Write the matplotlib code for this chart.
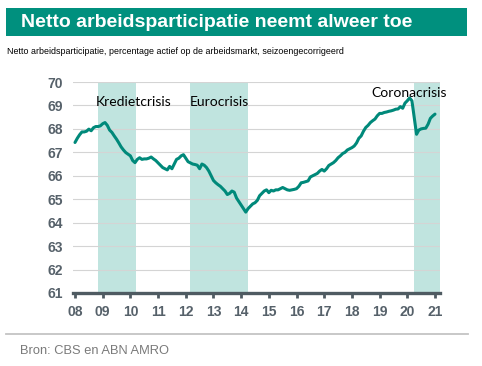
import matplotlib
matplotlib.use("Agg")
import matplotlib.pyplot as plt
from matplotlib.patches import Rectangle
from matplotlib.lines import Line2D
import numpy as np

# ---- data (monthly, Jan 2008 - Jan 2021) ----
v2008 = [67.42, 67.60, 67.75, 67.87, 67.87, 67.90, 67.99, 67.92, 68.05, 68.10, 68.10, 68.13]
v2009 = [68.22, 68.27, 68.15, 67.95, 67.85, 67.70, 67.56, 67.40, 67.23, 67.10, 66.99, 66.92]
v2010 = [66.85, 66.65, 66.56, 66.70, 66.77, 66.70, 66.72, 66.72, 66.75, 66.80, 66.72, 66.65]
v2011 = [66.55, 66.45, 66.35, 66.30, 66.25, 66.40, 66.30, 66.50, 66.70, 66.75, 66.85, 66.90]
v2012 = [66.75, 66.60, 66.55, 66.50, 66.48, 66.45, 66.30, 66.50, 66.45, 66.35, 66.20, 66.00]
v2013 = [65.80, 65.70, 65.62, 65.55, 65.45, 65.35, 65.20, 65.25, 65.35, 65.30, 65.05, 64.90]
v2014 = [64.75, 64.60, 64.45, 64.60, 64.70, 64.80, 64.85, 64.95, 65.15, 65.25, 65.35, 65.40]
v2015 = [65.28, 65.38, 65.35, 65.40, 65.40, 65.45, 65.50, 65.45, 65.40, 65.38, 65.40, 65.42]
v2016 = [65.45, 65.55, 65.70, 65.72, 65.75, 65.78, 65.95, 66.00, 66.05, 66.10, 66.20, 66.27]
v2017 = [66.20, 66.30, 66.44, 66.50, 66.56, 66.65, 66.77, 66.85, 66.95, 67.00, 67.10, 67.15]
v2018 = [67.20, 67.27, 67.40, 67.60, 67.70, 67.90, 68.06, 68.15, 68.27, 68.35, 68.42, 68.56]
v2019 = [68.66, 68.66, 68.70, 68.72, 68.75, 68.77, 68.80, 68.84, 68.85, 68.95, 68.88, 69.10]
v2020 = [69.20, 69.32, 69.20, 68.50, 67.77, 67.95, 68.00, 68.02, 68.03, 68.20, 68.45, 68.55]
v2021 = [68.63]

participation = (v2008 + v2009 + v2010 + v2011 + v2012 + v2013 + v2014 +
                 v2015 + v2016 + v2017 + v2018 + v2019 + v2020 + v2021)
start_year = 2008

tick_years = list(range(2008, 2022))
tick_labels = ["08", "09", "10", "11", "12", "13", "14", "15", "16", "17", "18", "19", "20", "21"]
y_ticks = [61, 62, 63, 64, 65, 66, 67, 68, 69, 70]

crisis_names = ["Kredietcrisis", "Eurocrisis", "Coronacrisis"]
crisis_start = [2008.83, 2012.15, 2020.25]
crisis_end = [2010.20, 2014.25, 2021.25]

title = "Netto arbeidsparticipatie neemt alweer toe"
subtitle = "Netto arbeidsparticipatie, percentage actief op de arbeidsmarkt, seizoengecorrigeerd"
source = "Bron: CBS en ABN AMRO"

# ---- styling ----
TEAL = "#00907e"
LINE = "#00897a"
SHADE = "#c0e4df"
TICKC = "#56616a"
W, H = 482, 366

fig = plt.figure(figsize=(W / 100, H / 100), dpi=100)
fig.patch.set_facecolor("white")

def fx(px):
    return px / W

def fy(py):
    return 1 - py / H

# title band
fig.patches.append(Rectangle((fx(6), fy(36)), fx(467) - fx(6), fy(8) - fy(36),
                             transform=fig.transFigure, facecolor=TEAL, edgecolor="none"))
fig.text(fx(21), fy(22.5), title, color="white", fontsize=14, fontweight="bold",
         family="Liberation Sans", va="center", ha="left")
fig.text(fx(7), fy(51), subtitle, color="black", fontsize=6.4,
         family="Liberation Sans", va="center", ha="left")

# separator and source
fig.lines.append(Line2D([fx(6), fx(468)], [fy(334), fy(334)], transform=fig.transFigure,
                        color="#c4c4c4", linewidth=1.3))
fig.text(fx(20), fy(351), source, color="#7a7a7a", fontsize=9.3,
         family="Liberation Sans", va="center", ha="left")

# axes
left_px, right_px, top_px, bot_px = 73, 440, 82, 293
ax = fig.add_axes([fx(left_px), fy(bot_px), fx(right_px) - fx(left_px), fy(top_px) - fy(bot_px)])

px_per_year = (435 - 75) / 13
x0 = 2008 - (75 - left_px) / px_per_year
x1 = 2008 + (right_px - 75) / px_per_year
ax.set_xlim(x0, x1)
ax.set_ylim(61, 70)

t = np.array([start_year + i / 12 for i in range(len(participation))])

for s, e in zip(crisis_start, crisis_end):
    ax.axvspan(s, min(e, x1), color=SHADE, linewidth=0, zorder=1)

ax.plot(t, participation, color=LINE, linewidth=2.2, solid_joinstyle="round",
        solid_capstyle="round", zorder=3)

ax.set_yticks(y_ticks)
ax.set_yticklabels([str(v) for v in y_ticks])
ax.set_xticks(tick_years)
ax.set_xticklabels(tick_labels)
ax.grid(axis="y", color="#d4d4d4", linewidth=0.8)
ax.grid(axis="x", visible=False)

for side in ["top", "right", "left"]:
    ax.spines[side].set_visible(False)
ax.spines["bottom"].set_color("#4f5b62")
ax.spines["bottom"].set_linewidth(2.4)
ax.spines["bottom"].set_zorder(4)

ax.tick_params(axis="y", length=0, pad=7.5, labelsize=10, labelcolor=TICKC)
ax.tick_params(axis="x", length=3.5, width=2, color="#4f5b62", pad=5,
               labelsize=10, labelcolor=TICKC, direction="out")
for lab in ax.get_xticklabels() + ax.get_yticklabels():
    lab.set_fontweight("bold")
    lab.set_family("Liberation Sans")

# crisis labels
label_pos = [(95.7, 101.7), (189.3, 101.7), (371, 92.7)]
for name, (px, py) in zip(crisis_names, label_pos):
    fig.text(fx(px), fy(py), name, fontsize=10, family="Lato", color="black",
             va="center", ha="left")

fig.savefig("out.png", dpi=100)
